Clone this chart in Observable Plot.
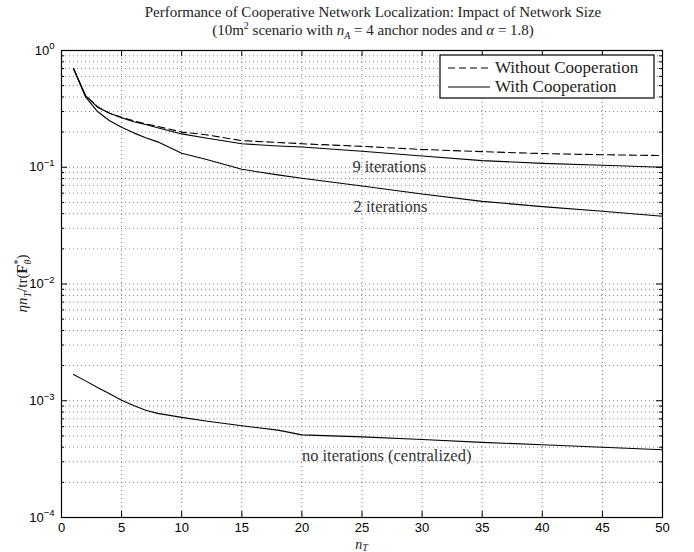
<!DOCTYPE html>
<html><head><meta charset="utf-8">
<script src="https://cdn.jsdelivr.net/npm/d3@7"></script>
<script src="https://cdn.jsdelivr.net/npm/@observablehq/plot@0.6"></script>
<style>
body{margin:0;background:#fff;}
#wrap{position:relative;width:694px;height:552px;}
#title{position:absolute;left:26px;top:3px;width:694px;text-align:center;font-family:"Liberation Serif",serif;font-size:15px;line-height:18px;color:#222;}
#title sup{font-size:10px;line-height:0;}
#title sub{font-size:10px;line-height:0;}
</style></head><body>
<div id="wrap"></div>
<script>
const nT      = [1, 2, 3, 4, 5, 6, 7, 8, 10, 12, 15, 18, 20, 25, 30, 35, 40, 45, 50];
const noCoop  = [0.70, 0.41, 0.33, 0.29, 0.268, 0.25, 0.235, 0.224, 0.20, 0.19, 0.169, 0.163, 0.159, 0.151, 0.142, 0.136, 0.131, 0.128, 0.126];
const iter9   = [0.70, 0.41, 0.327, 0.29, 0.265, 0.245, 0.232, 0.218, 0.193, 0.178, 0.159, 0.152, 0.149, 0.137, 0.125, 0.114, 0.108, 0.104, 0.100];
const iter2   = [0.70, 0.40, 0.30, 0.25, 0.22, 0.197, 0.179, 0.165, 0.132, 0.117, 0.096, 0.086, 0.0805, 0.069, 0.059, 0.051, 0.046, 0.042, 0.038];
const central = [0.00168, 0.00148, 0.0013, 0.00115, 0.00101, 0.00091, 0.00083, 0.00078, 0.00072, 0.00067, 0.00061, 0.00056, 0.00051, 0.00049, 0.000465, 0.00044, 0.00042, 0.0004, 0.00038];

const xTicks = [0, 5, 10, 15, 20, 25, 30, 35, 40, 45, 50];
const yMajor = [1e-4, 1e-3, 1e-2, 1e-1, 1];
const yMinor = [];
for (const d of [1e-4, 1e-3, 1e-2, 1e-1]) for (let k = 2; k <= 9; k++) yMinor.push(d * k);

const annotations = [
  {x: 24.2, y: 0.1016, text: "9 iterations"},
  {x: 24.3, y: 0.0461, text: "2 iterations"},
  {x: 20.0, y: 0.00034, text: "no iterations (centralized)"}
];
const legendItems = [
  {label: "Without Cooperation", dash: "7,4"},
  {label: "With Cooperation", dash: null}
];

const W = 694, H = 552, mL = 61, mR = 32, mT = 50, mB = 35;
const pW = W - mL - mR, pH = H - mT - mB;

const rows = s => nT.map((x, i) => ({x, y: s[i]}));
const serif = '"Liberation Serif", serif';
const grid = {stroke: "#333", strokeOpacity: 0.8, strokeDasharray: "1,3", strokeWidth: 0.8};

const chart = Plot.plot({
  width: W, height: H,
  marginLeft: mL, marginRight: mR, marginTop: mT, marginBottom: mB,
  style: {fontFamily: '"Liberation Sans", Arial, sans-serif', fontSize: "13px", background: "#fff", color: "#000"},
  x: {domain: [0, 50]},
  y: {type: "log", domain: [1e-4, 1]},
  marks: [
    Plot.gridX(xTicks.slice(1, -1), grid),
    Plot.gridY([...yMinor, ...yMajor.slice(1, -1)], grid),
    Plot.tickX(xTicks, {x: d => d, insetTop: pH - 6, stroke: "#000"}),
    Plot.tickX(xTicks, {x: d => d, insetBottom: pH - 6, stroke: "#000"}),
    Plot.tickY(yMajor, {y: d => d, insetLeft: pW - 6, stroke: "#000"}),
    Plot.tickY(yMajor, {y: d => d, insetRight: pW - 6, stroke: "#000"}),
    Plot.tickY(yMinor, {y: d => d, insetLeft: pW - 3, stroke: "#000"}),
    Plot.tickY(yMinor, {y: d => d, insetRight: pW - 3, stroke: "#000"}),
    Plot.axisX(xTicks, {anchor: "bottom", tickSize: 0, tickPadding: 5, label: null}),
    Plot.axisY(yMajor, {anchor: "left", tickSize: 0, tickPadding: 7, label: null, tickFormat: d => "10^" + Math.round(Math.log10(d))}),
    Plot.line(rows(noCoop), {x: "x", y: "y", stroke: "#000", strokeWidth: 1.1, strokeDasharray: "7,4"}),
    Plot.line(rows(iter9), {x: "x", y: "y", stroke: "#000", strokeWidth: 1.1}),
    Plot.line(rows(iter2), {x: "x", y: "y", stroke: "#000", strokeWidth: 1.1}),
    Plot.line(rows(central), {x: "x", y: "y", stroke: "#000", strokeWidth: 1.1}),
    Plot.text(annotations, {x: "x", y: "y", text: "text", textAnchor: "start", fontFamily: serif, fontSize: 16.5, fill: "#333"}),
    Plot.frame({stroke: "#000", strokeWidth: 1.2})
  ]
});

const wrap = document.getElementById("wrap");
wrap.appendChild(chart);
const title = document.createElement("div");
title.id = "title";
title.innerHTML = 'Performance of Cooperative Network Localization: Impact of Network Size<br>(10m<sup>2</sup> scenario with <i>n</i><sub><i>A</i></sub> = 4 anchor nodes and <i>α</i> = 1.8)';
wrap.appendChild(title);

const NS = "http://www.w3.org/2000/svg";
function el(tag, attrs, parent, txt) {
  const e = document.createElementNS(NS, tag);
  for (const k in attrs) e.setAttribute(k, attrs[k]);
  if (txt != null) e.textContent = txt;
  parent.appendChild(e);
  return e;
}
const svg = chart;

// superscript y tick labels
d3.select(chart).selectAll('g[aria-label="y-axis tick label"] text').each(function() {
  const t = this.textContent;
  const exp = t.split("^")[1].replace("-", "−");
  this.textContent = "";
  el("tspan", {}, this, "10");
  el("tspan", {dy: "-0.55em", "font-size": "9.5"}, this, exp);
});

// x label
const xl = el("text", {x: mL + pW / 2, y: 549, "text-anchor": "middle", "font-family": serif, "font-size": 14, "font-style": "italic", fill: "#222"}, svg);
el("tspan", {}, xl, "n");
el("tspan", {dy: 2, "font-size": 10}, xl, "T");

// y label
const yl = el("text", {transform: `translate(27,${mT + pH / 2}) rotate(-90)`, "text-anchor": "middle", "font-family": serif, "font-size": 15, fill: "#222"}, svg);
el("tspan", {"font-style": "italic"}, yl, "ηn");
el("tspan", {dy: 4, "font-size": 10, "font-style": "italic"}, yl, "T");
el("tspan", {dy: -4}, yl, "/tr(");
el("tspan", {"font-weight": "bold"}, yl, "F");
el("tspan", {dy: -6, "font-size": 10}, yl, "*");
el("tspan", {dx: -5, dy: 10, "font-size": 10, "font-style": "italic"}, yl, "θ");
el("tspan", {dy: -4}, yl, ")");

// legend
const lg = el("g", {"text-anchor": "start"}, svg);
const lx = 440, ly = 55, lw = 214, lh = 43;
el("rect", {x: lx, y: ly, width: lw, height: lh, fill: "#fff", stroke: "#000", "stroke-width": 1.2}, lg);
legendItems.forEach((d, i) => {
  const yy = ly + 13 + i * 19;
  const ln = el("line", {x1: lx + 8, x2: lx + 50, y1: yy, y2: yy, stroke: "#000", "stroke-width": 1.1}, lg);
  if (d.dash) ln.setAttribute("stroke-dasharray", d.dash);
  el("text", {x: lx + 55, y: yy + 5, "text-anchor": "start", "font-family": serif, "font-size": 17, fill: "#222"}, lg, d.label);
});
</script>
</body></html>
